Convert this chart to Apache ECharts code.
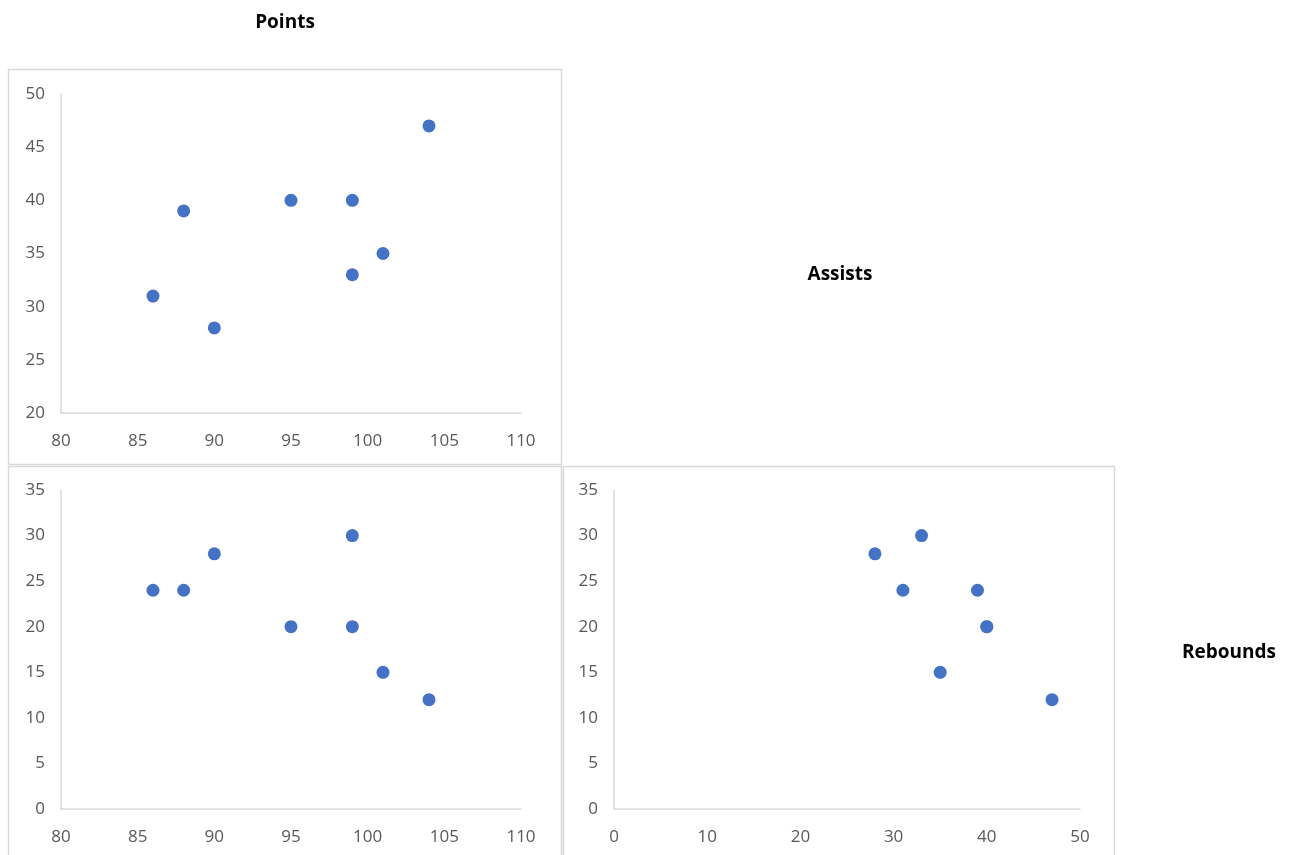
<!DOCTYPE html>
<html>
<head>
<meta charset="utf-8">
<script src="https://cdn.jsdelivr.net/npm/echarts@6/dist/echarts.min.js"></script>
<style>html,body{margin:0;padding:0;background:#fff;}#c{width:1292px;height:855px;}</style>
</head>
<body>
<div id="c"></div>
<script>
const variables = ["Points", "Assists", "Rebounds"];
const points = [86, 88, 90, 95, 99, 99, 101, 104];
const assists = [31, 39, 28, 40, 40, 33, 35, 47];
const rebounds = [24, 24, 28, 20, 20, 30, 15, 12];

const pair = (xs, ys) => xs.map((x, i) => [x, ys[i]]);

const chart = echarts.init(document.getElementById('c'), null, {renderer: 'canvas'});
const font = '"Open Sans", "Noto Sans", sans-serif';
const axisLine = {show: true, lineStyle: {color: '#d9d9d9', width: 1.5}};
function xAx(idx, min, max, interval) {
  return {type: 'value', gridIndex: idx, min, max, interval, axisLine, axisTick: {show: false},
    splitLine: {show: false}, axisLabel: {color: '#595959', fontSize: 17, fontFamily: font, margin: 20}};
}
function yAx(idx, min, max, interval) {
  return {type: 'value', gridIndex: idx, min, max, interval, axisLine, axisTick: {show: false},
    splitLine: {show: false}, axisLabel: {color: '#595959', fontSize: 17, fontFamily: font, margin: 16}};
}
const marker = {color: '#4472C4', opacity: 1};
const border = (x, y, w, h) => ({type: 'rect', shape: {x, y, width: w, height: h},
  style: {fill: 'none', stroke: '#d9d9d9', lineWidth: 1.5}, silent: true, z: -1});
const label = (text, x, y) => ({type: 'text', x, y, silent: true,
  style: {text, fontFamily: font, fontSize: 19, fontWeight: 'bold', fill: '#000',
    textAlign: 'center', textVerticalAlign: 'middle'}});

chart.setOption({
  animation: false,
  backgroundColor: '#fff',
  graphic: [
    border(8.5, 69.5, 553, 395),
    border(8.5, 466.5, 553, 395),
    border(563.5, 466.5, 551, 395),
    label(variables[0], 285, 23),
    label(variables[1], 840, 275),
    label(variables[2], 1229, 653)
  ],
  grid: [
    {left: 61, top: 94, width: 460, height: 319},
    {left: 61, top: 490, width: 460, height: 319},
    {left: 614, top: 490, width: 466, height: 319}
  ],
  xAxis: [xAx(0, 80, 110, 5), xAx(1, 80, 110, 5), xAx(2, 0, 50, 10)],
  yAxis: [yAx(0, 20, 50, 5), yAx(1, 0, 35, 5), yAx(2, 0, 35, 5)],
  series: [
    {type: 'scatter', xAxisIndex: 0, yAxisIndex: 0, symbolSize: 13, itemStyle: marker, data: pair(points, assists)},
    {type: 'scatter', xAxisIndex: 1, yAxisIndex: 1, symbolSize: 13, itemStyle: marker, data: pair(points, rebounds)},
    {type: 'scatter', xAxisIndex: 2, yAxisIndex: 2, symbolSize: 13, itemStyle: marker, data: pair(assists, rebounds)}
  ]
});
</script>
</body>
</html>
